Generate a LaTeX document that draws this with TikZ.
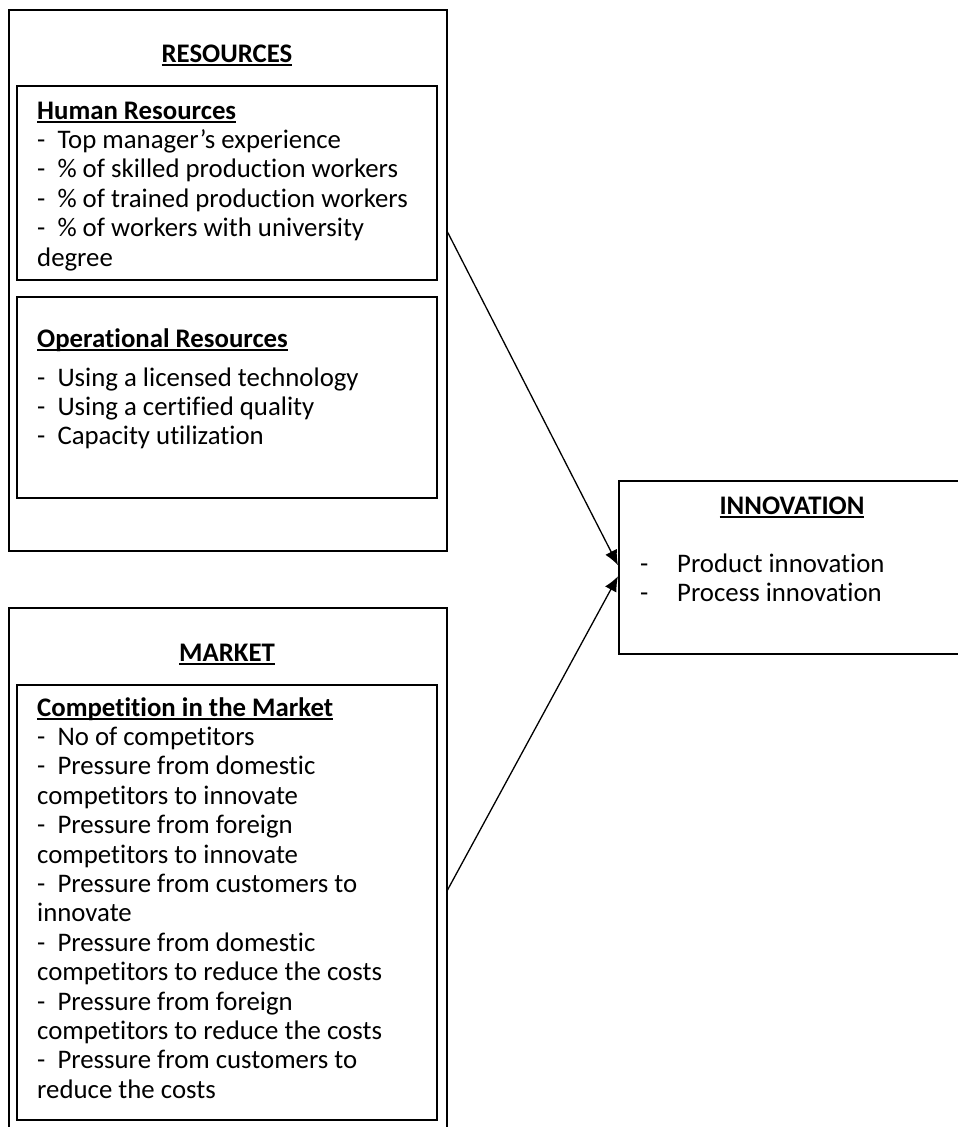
\documentclass[tikz,border=0pt]{standalone}
\usepackage{fontspec}
\setmainfont{Carlito}[Ligatures={NoCommon}]
\usetikzlibrary{arrows.meta}
\newcommand\hd[1]{\leavevmode\setbox0=\hbox{\textbf{#1}}\rlap{\raisebox{-3.6pt}{\rule{\wd0}{1.5pt}}}\box0}
\begin{document}
\begin{tikzpicture}[x=1pt,y=-1pt,
  box/.style={draw=black, line width=1.5pt, rectangle, inner sep=0pt, anchor=north west},
  txt/.style={inner sep=0pt, anchor=base west, font=\fontsize{26.8}{29.4}\selectfont},
  ttl/.style={inner sep=0pt, anchor=base, font=\fontsize{26.8}{29.4}\selectfont},
  arr/.style={line width=1.3pt, -{Latex[length=15pt,width=13pt]}}]
\useasboundingbox (0,0) rectangle (958,1127);
\clip (0,0) rectangle (958,1127);
% boxes
\node[box, minimum width=438pt, minimum height=541pt] (res) at (8,9) {};
\node[box, minimum width=420pt, minimum height=194pt] (hr) at (16,85) {};
\node[box, minimum width=420pt, minimum height=201pt] (op) at (16,296) {};
\node[box, minimum width=438pt, minimum height=540pt] (mkt) at (8,607) {};
\node[box, minimum width=420pt, minimum height=435pt] (comp) at (16,684) {};
\node[box, minimum width=400pt, minimum height=173pt] (inn) at (618,480) {};
% titles
\node[ttl] (rest) at (227,62) {\hd{RESOURCES}};
\node[ttl] (mktt) at (227,661) {\hd{MARKET}};
\node[ttl] (innt) at (792,514) {\hd{INNOVATION}};
% texts
\node[txt] (hrtx) at (37,119) {\parbox[t]{400pt}{\raggedright
\hd{Human Resources}\\
-\ \ Top manager’s experience\\
-\ \ \% of skilled production workers\\
-\ \ \% of trained production workers\\
-\ \ \% of workers with university\\
degree}};
\node[txt] (optx) at (37,347) {\hd{Operational Resources}};
\node[txt] (opl) at (37,386) {\parbox[t]{400pt}{\raggedright
-\ \ Using a licensed technology\\
-\ \ Using a certified quality\\
-\ \ Capacity utilization}};
\node[txt] (comptx) at (37,716) {\parbox[t]{400pt}{\raggedright
\hd{Competition in the Market}\\
-\ \ No of competitors\\
-\ \ Pressure from domestic\\
competitors to innovate\\
-\ \ Pressure from foreign\\
competitors to innovate\\
-\ \ Pressure from customers to\\
innovate\\
-\ \ Pressure from domestic\\
competitors to reduce the costs\\
-\ \ Pressure from foreign\\
competitors to reduce the costs\\
-\ \ Pressure from customers to\\
reduce the costs}};
\node[txt] (d1) at (640,572) {-};
\node[txt] (d2) at (640,601) {-};
\node[txt] (p1) at (677,572) {Product innovation};
\node[txt] (p2) at (677,601) {Process innovation};
% arrows
\draw[arr] ([yshift=-223pt]res.north east) -- ([yshift=2pt]inn.west);
\draw[arr] ([yshift=-283pt]mkt.north east) -- ([yshift=-9pt]inn.west);
\end{tikzpicture}
\end{document}
